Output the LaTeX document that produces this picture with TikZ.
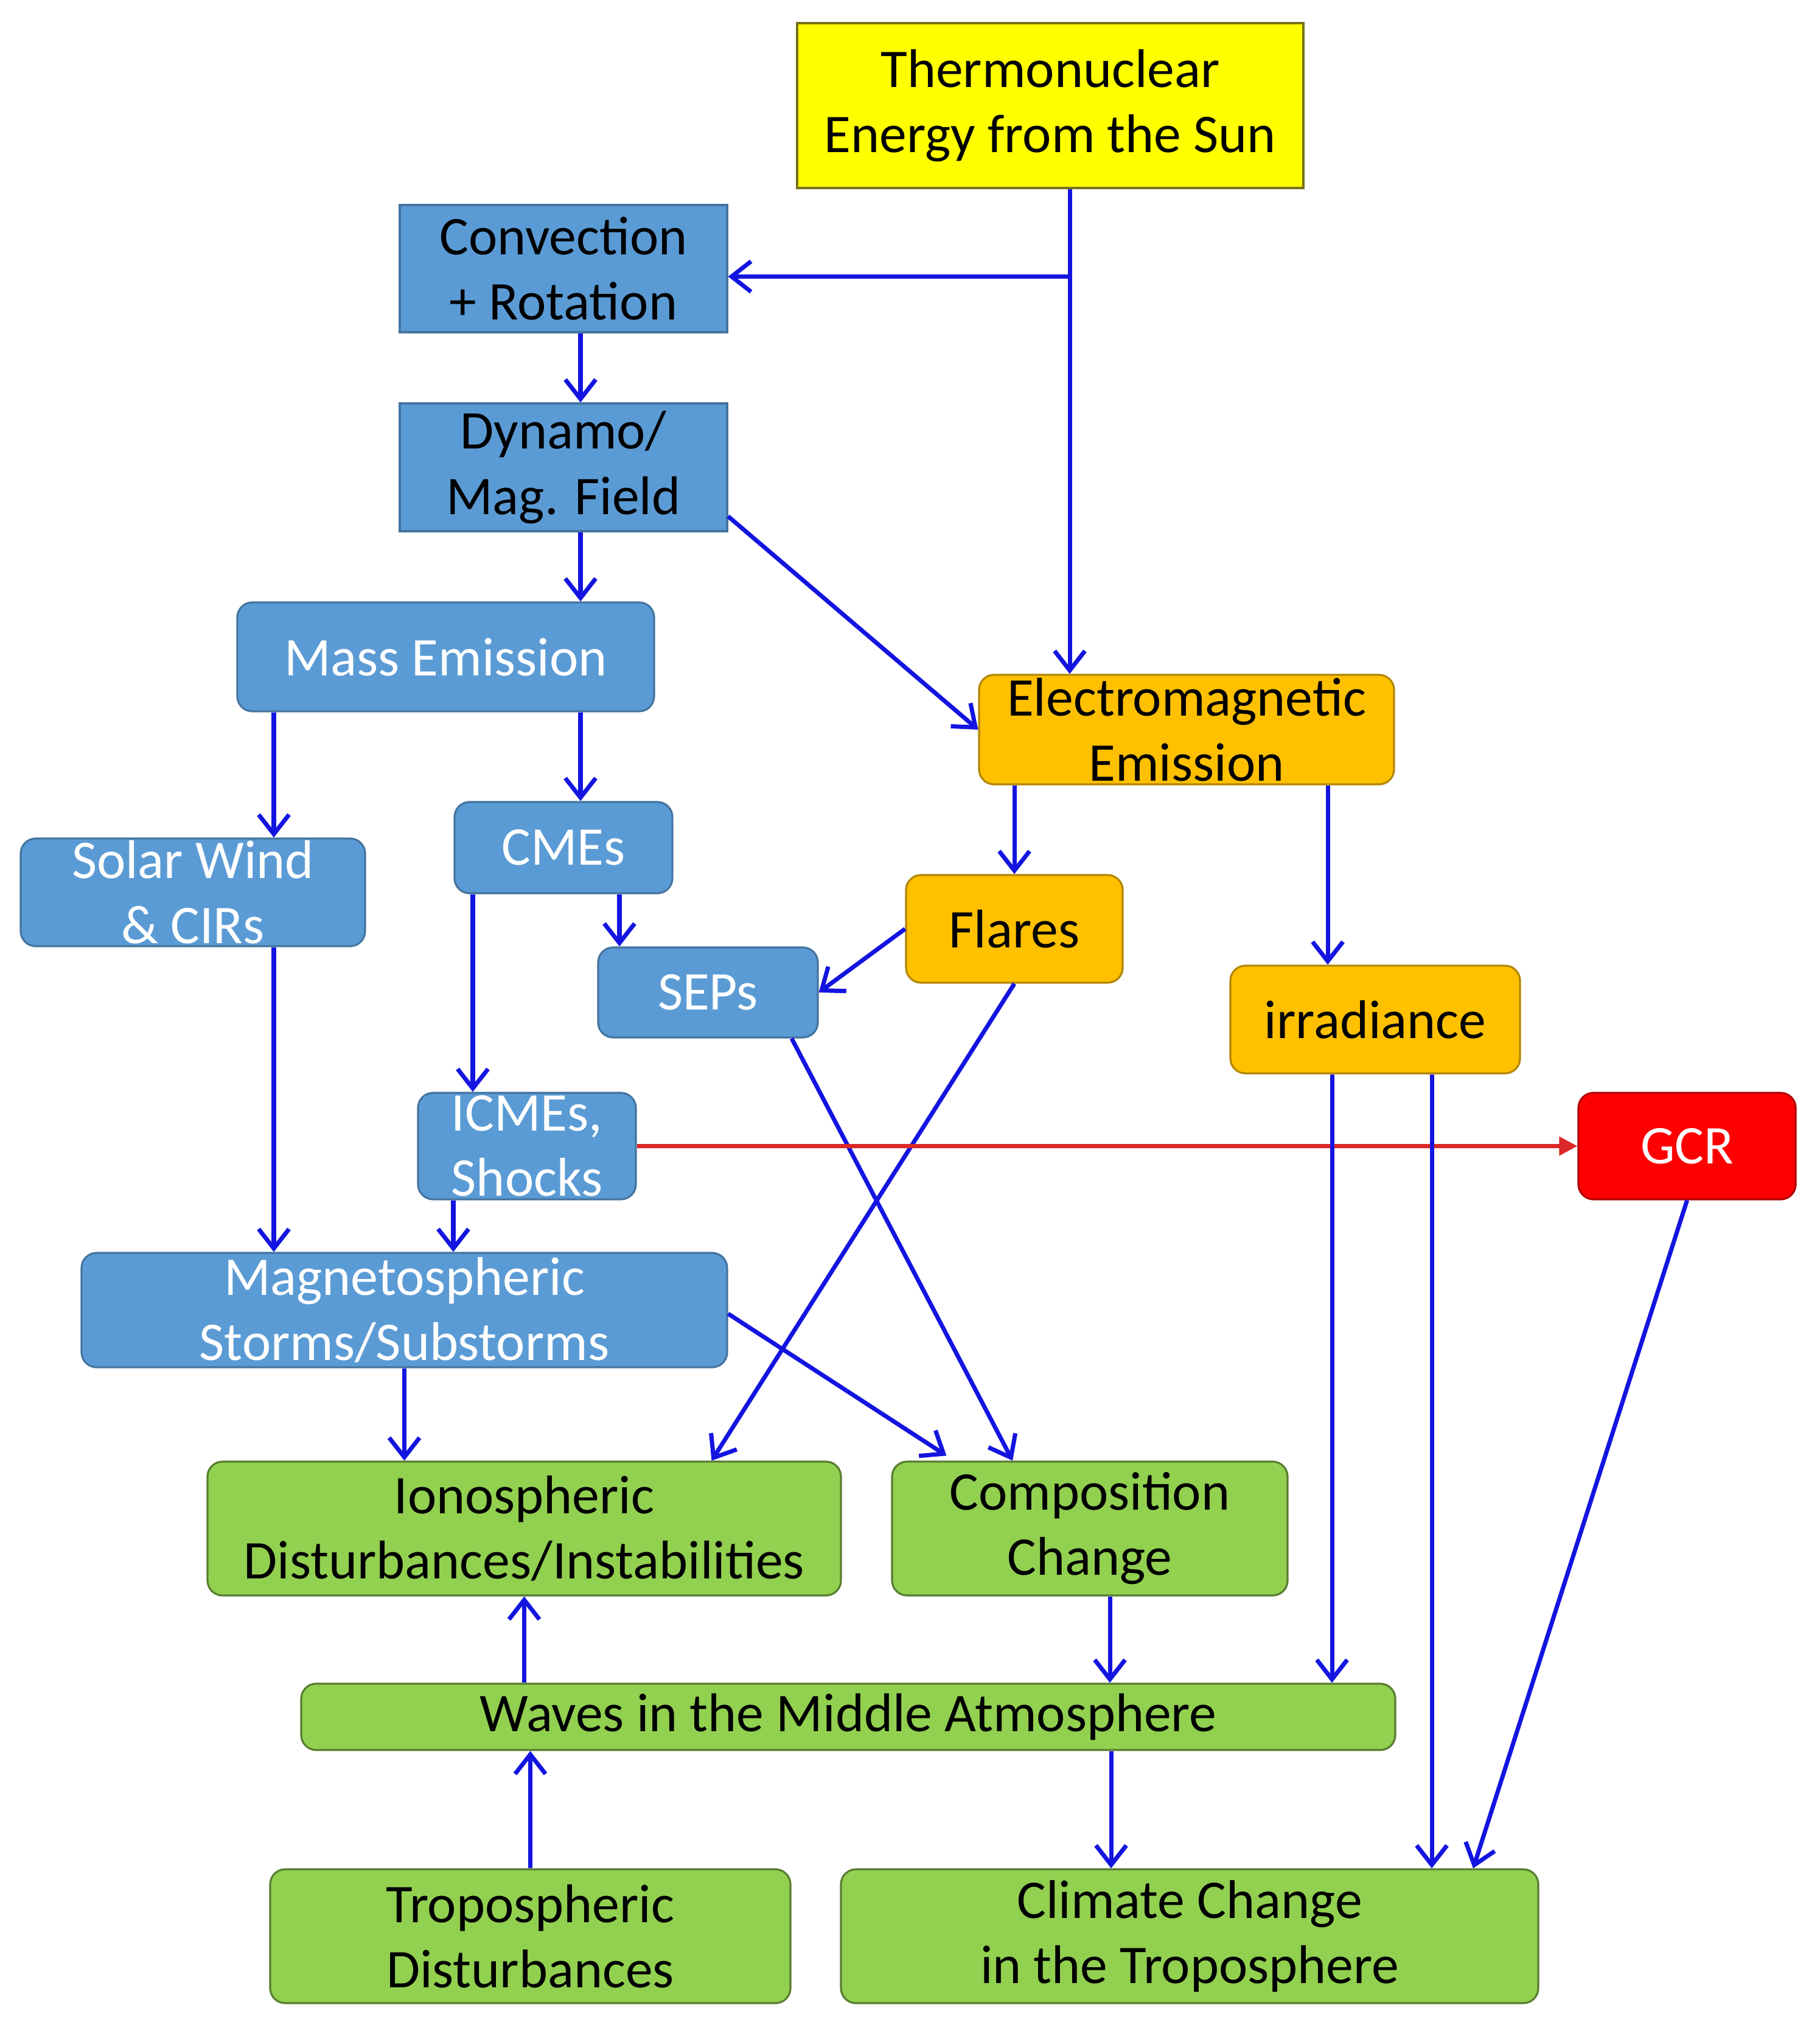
\documentclass[tikz,border=0pt]{standalone}
\usepackage{fontspec}
\setmainfont{Carlito}
\usetikzlibrary{arrows.meta}
\definecolor{sunyellow}{RGB}{255,255,0}
\definecolor{boxblue}{RGB}{91,155,213}
\definecolor{boxorange}{RGB}{255,192,0}
\definecolor{boxgreen}{RGB}{146,208,80}
\definecolor{boxred}{RGB}{255,0,0}
\definecolor{arrowblue}{RGB}{20,20,225}
\definecolor{arrowred}{RGB}{220,40,40}

\begin{document}
\begin{tikzpicture}[
  box/.style={draw, line width=0.9pt, align=center, inner sep=0pt,
              font=\fontsize{25.5}{30.5}\selectfont},
  sunbox/.style={box, fill=sunyellow, draw=olive!80!black},
  bluebox/.style={box, fill=boxblue, draw=boxblue!75!black},
  roundblue/.style={bluebox, rounded corners=7pt, text=white},
  orangebox/.style={box, fill=boxorange, draw=boxorange!70!black, rounded corners=7pt},
  greenbox/.style={box, fill=boxgreen, draw=boxgreen!60!black, rounded corners=7pt},
  redbox/.style={box, fill=boxred, draw=boxred!70!black, rounded corners=7pt, text=white},
  link/.style={draw=arrowblue, line width=2pt,
               -{Straight Barb[length=3.2mm,width=5mm]}},
  redlink/.style={draw=arrowred, line width=1.8pt,
                  -{Triangle[length=3mm,width=3mm]}}
]
\useasboundingbox (0,0) rectangle (29.91,-33.46);

% the sun and its interior
\node[sunbox, minimum width=8.32cm, minimum height=2.71cm] (sun)
      at (17.26,-1.735) {Thermonuclear\\Energy from the Sun};
\node[bluebox, minimum width=5.38cm, minimum height=2.09cm] (conv)
      at (9.26,-4.415) {Convection\\+ Rotation};
\node[bluebox, minimum width=5.38cm, minimum height=2.10cm] (dyn)
      at (9.26,-7.68) {Dynamo/\\Mag. Field};

% emissions
\node[roundblue, minimum width=6.85cm, minimum height=1.79cm] (mass)
      at (7.325,-10.795) {Mass Emission};
\node[orangebox, minimum width=6.82cm, minimum height=1.80cm] (em)
      at (19.50,-11.99) {Electromagnetic\\Emission};
\node[roundblue, minimum width=5.66cm, minimum height=1.77cm] (wind)
      at (3.17,-14.665) {Solar Wind\\\& CIRs};
\node[roundblue, minimum width=3.58cm, minimum height=1.50cm] (cme)
      at (9.26,-13.93) {CMEs};
\node[orangebox, minimum width=3.56cm, minimum height=1.77cm] (flare)
      at (16.67,-15.265) {Flares};
\node[roundblue, minimum width=3.61cm, minimum height=1.48cm] (sep)
      at (11.635,-16.31) {SEPs};
\node[orangebox, minimum width=4.76cm, minimum height=1.77cm] (irr)
      at (22.60,-16.755) {irradiance};
\node[roundblue, minimum width=3.58cm, minimum height=1.75cm] (icme)
      at (8.66,-18.835) {ICMEs,\\Shocks};
\node[redbox, minimum width=3.57cm, minimum height=1.75cm] (gcr)
      at (27.725,-18.835) {GCR};
\node[roundblue, minimum width=10.61cm, minimum height=1.88cm] (mag)
      at (6.645,-21.53) {Magnetospheric\\Storms/Substorms};

% the Earth's atmosphere
\node[greenbox, minimum width=10.41cm, minimum height=2.20cm] (iono)
      at (8.615,-25.12) {Ionospheric\\Disturbances/Instabilities};
\node[greenbox, minimum width=6.50cm, minimum height=2.20cm] (comp)
      at (17.91,-25.12) {Composition\\Change};
\node[greenbox, minimum width=17.98cm, minimum height=1.09cm] (wave)
      at (13.94,-28.215) {Waves in the Middle Atmosphere};
\node[greenbox, minimum width=8.55cm, minimum height=2.20cm] (trop)
      at (8.715,-31.82) {Tropospheric\\Disturbances};
\node[greenbox, minimum width=11.46cm, minimum height=2.20cm] (clim)
      at (19.55,-31.82) {Climate Change\\in the Troposphere};

% connectors
\coordinate (trunk) at ([xshift=3.2mm]sun.south);
\coordinate (fork) at ([yshift=-1.3mm]trunk |- conv.east);
\draw[link] (trunk) -- (trunk |- em.north);
\draw[link] (fork) -- (fork -| conv.east);
\draw[link] ([xshift=2.8mm]conv.south) -- ([xshift=2.8mm]dyn.north);
\draw[link] ([xshift=2.8mm]dyn.south) -- ([xshift=2.8mm]dyn.south |- mass.north);
\draw[link] ([yshift=2.6mm]dyn.south east) -- (em.west);
\draw[link] ([xshift=1.33cm]wind.north |- mass.south) -- ([xshift=1.33cm]wind.north);
\draw[link] ([xshift=2.8mm]cme.north |- mass.south) -- ([xshift=2.8mm]cme.north);
\draw[link] ([xshift=-1.455cm]sep.north |- cme.south) -- ([xshift=-1.455cm]sep.north);
\draw[link] ([xshift=-0.89cm]icme.north |- cme.south) -- ([xshift=-0.89cm]icme.north);
\draw[link] (em.south -| flare.north) -- (flare.north);
\draw[link] ([xshift=-0.78cm]irr.north |- em.south) -- ([xshift=-0.78cm]irr.north);
\draw[link] (flare.west) -- (sep.east);
\draw[link] (flare.south) -- ([xshift=3.08cm]iono.north);
\draw[link] ([xshift=1.375cm]sep.south) -- ([xshift=-1.27cm]comp.north);
\draw[link] ([xshift=1.33cm]wind.south) -- ([xshift=1.33cm]wind.south |- mag.north);
\draw[link] ([xshift=-1.21cm]icme.south) -- ([xshift=-1.21cm]icme.south |- mag.north);
\draw[redlink] (icme.east) -- (gcr.west);
\draw[link] (mag.south) -- (mag.south |- iono.north);
\draw[link, shorten >=1.5mm] ([yshift=-0.6mm]mag.east) -- ([xshift=-2.23cm]comp.north);
\draw[link] ([xshift=-0.71cm]irr.south) -- ([xshift=-0.71cm]irr.south |- wave.north);
\draw[link] ([xshift=0.93cm]irr.south) -- ([xshift=0.93cm]irr.south |- clim.north);
\draw[link] (gcr.south) -- ([xshift=4.66cm]clim.north);
\draw[link] ([xshift=0.33cm]comp.south) -- ([xshift=0.33cm]comp.south |- wave.north);
\draw[link] ([xshift=-1.29cm]clim.north |- wave.south) -- ([xshift=-1.29cm]clim.north);
\draw[link] (wave.north -| iono.south) -- (iono.south);
\draw[link] (trop.north) -- (trop.north |- wave.south);
\end{tikzpicture}
\end{document}
